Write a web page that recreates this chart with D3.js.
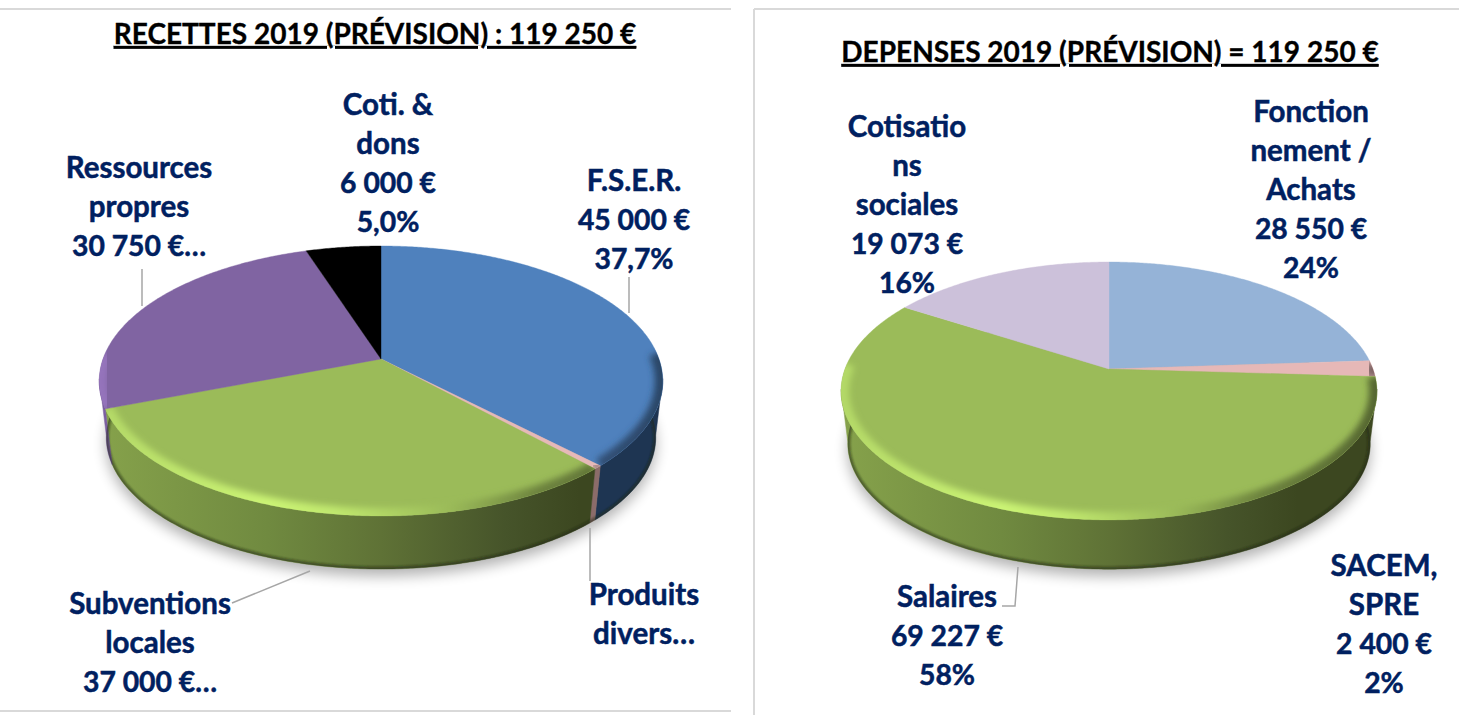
<!DOCTYPE html>
<html><head><meta charset="utf-8">
<script src="https://cdn.jsdelivr.net/npm/d3@7"></script>
<style>html,body{margin:0;padding:0;background:#fff}svg{display:block}text{font-family:Lato,"Open Sans",sans-serif;font-weight:700}</style>
</head><body><svg id="c" width="1459" height="715"></svg>
<script>
// ---- data ----
const recettesTitle = "RECETTES 2019 (PRÉVISION) : 119 250 €";
const recettesCategories = ["F.S.E.R.", "Produits divers", "Subventions locales", "Ressources propres", "Coti. & dons"];
const recettesValues = [45000, 500, 37000, 30750, 6000];
const recettesColors = ["#4f81bd", "#e6b9b8", "#9bbb59", "#8064a2", "#000000"];
const recettesLabels = [["F.S.E.R.","45 000 €","37,7%"],["Produits","divers…"],["Subventions","locales","37 000 €…"],["Ressources","propres","30 750 €…"],["Coti. &","dons","6 000 €","5,0%"]];

const depensesTitle = "DEPENSES 2019 (PRÉVISION) = 119 250 €";
const depensesCategories = ["Fonctionnement / Achats", "SACEM, SPRE", "Salaires", "Cotisations sociales"];
const depensesValues = [28550, 2400, 69227, 19073];
const depensesColors = ["#95b3d7", "#e6b8b7", "#9bbb59", "#ccc1da"];
const depensesLabels = [["Fonction","nement /","Achats","28 550 €","24%"],["SACEM,","SPRE","2 400 €","2%"],["Salaires","69 227 €","58%"],["Cotisatio","ns","sociales","19 073 €","16%"]];

// ---- layout ----
const FONT = 29.5, NUM_FONT = 28.3, TITLE_FONT = 28, NAVY = "#002060", LEAD = "#a6a6a6", LH = 39;
const charts = [
 {id:"r", title:recettesTitle, tx:375, ty:44, values:recettesValues, colors:recettesColors, labels:recettesLabels,
  cx:381, cy:359, R:278, S:131.4, k:0.163, depth:57, shrink:0.975,
  anchors:[[634,181],[644,595],[150,604],[139,168],[388,105]],
  sideColors:["#1e3552","#8b6c6a",null,"#7b5fa0","#000"],
  leaders:[[[629,277],[629,313]],[[590,528],[590,581]],[[310,571],[232,603]],[[142,269],[142,306]]]},
 {id:"d", title:depensesTitle, tx:1110, ty:62, values:depensesValues, colors:depensesColors, labels:depensesLabels,
  cx:1109, cy:369, R:264, S:125.2, k:0.1705, depth:53, shrink:0.975,
  anchors:[[1311,112],[1384,566],[947,597],[907,127]],
  sideColors:["#3d4720","#3d4720",null,"#6f8a40"],
  leaders:[[[1018,567],[1015,606],[1002,606]]]}
];

const svg = d3.select("#c");
const defs = svg.append("defs");
const blur = (id,s)=>defs.append("filter").attr("id",id).attr("x","-20%").attr("y","-20%").attr("width","140%").attr("height","140%")
   .append("feGaussianBlur").attr("stdDeviation",s);
blur("b7",7); blur("b3",3.2); blur("b1",1.2);

// panel borders
const borders=[[0,9,731,9],[0,711,731,711],[754,9,1459,9],[754,9,754,715]];
svg.selectAll("line.b").data(borders).join("line").attr("class","b")
  .attr("x1",d=>d[0]).attr("y1",d=>d[1]).attr("x2",d=>d[2]).attr("y2",d=>d[3])
  .attr("stroke","#d9d9d9").attr("stroke-width",2);

const lineGen = d3.line();
const deg = Math.PI/180;

charts.forEach(c=>{
  const g = svg.append("g");
  const x = d3.scaleLinear().domain([-1,1]).range([c.cx-c.R,c.cx+c.R]);
  const y = d3.scaleLinear().domain([-1,1]).range([c.cy-c.S,c.cy+c.S]);
  const top = a=>{const u=Math.sin(a),v=-Math.cos(a),w=1-c.k*v;return [x(u/w),y(v/w)];};
  const bot = a=>{const u=Math.sin(a),v=-Math.cos(a),w=1-c.k*v;
     return [c.cx+(x(u/w)-c.cx)*c.shrink, c.cy+c.depth+(y(v/w)-c.cy)*c.shrink];};
  const arcs = d3.pie().sort(null).value(d=>d)(c.values);
  const samples=(a0,a1,n)=>d3.range(n+1).map(i=>a0+(a1-a0)*i/n);
  const full = samples(0,2*Math.PI,360);
  const xmin=c.cx-c.R*1.02, xmax=c.cx+c.R*1.02;

  // drop shadow
  g.append("path").attr("d",lineGen(full.map(bot))+"Z").attr("transform","translate(0,7)")
    .attr("fill","#000").attr("opacity",.3).attr("filter","url(#b7)");

  // side wall gradient
  const greenSide=[[0,"#86a24b"],[.3,"#708a40"],[.5,"#5f7236"],[.72,"#46542a"],[.85,"#3c4720"],[1,"#3c4720"]];
  const gid=c.id+"side";
  defs.append("linearGradient").attr("id",gid).attr("gradientUnits","userSpaceOnUse")
    .attr("x1",xmin).attr("x2",xmax).attr("y1",0).attr("y2",0)
    .selectAll("stop").data(greenSide).join("stop").attr("offset",d=>d[0]).attr("stop-color",d=>d[1]);

  // side walls: only the part of each slice that faces the viewer
  arcs.forEach((s,i)=>{
    const n=Math.max(2,Math.ceil((s.endAngle-s.startAngle)/(deg/2)));
    const t=samples(s.startAngle,s.endAngle,n).filter(a=>top(a+0.002)[0]<top(a)[0]+0.01);
    if(t.length<2) return;
    const paint=c.sideColors[i]||`url(#${gid})`;
    g.append("path").attr("d",lineGen([...t.map(top),...t.slice().reverse().map(bot)])+"Z")
      .attr("fill",paint).attr("stroke",paint).attr("stroke-width",.5);
  });
  // dark lower edge of the wall
  const clipB=c.id+"clipB";
  defs.append("clipPath").attr("id",clipB).append("path").attr("d",lineGen(full.map(bot))+"Z");
  g.append("g").attr("clip-path",`url(#${clipB})`).append("path").attr("d",lineGen(full.map(bot))+"Z")
    .attr("fill","none").attr("stroke","#1c2410").attr("stroke-opacity",.55).attr("stroke-width",5).attr("filter","url(#b1)");

  // top faces
  arcs.forEach((s,i)=>{
    const n=Math.max(2,Math.ceil((s.endAngle-s.startAngle)/(deg/2)));
    const rim=samples(s.startAngle,s.endAngle,n);
    const d=lineGen([[c.cx,c.cy],...rim.map(top)])+"Z";
    g.append("path").attr("d",d).attr("fill",c.colors[i]).attr("stroke",c.colors[i]).attr("stroke-width",.4);
    // bevel on the rim
    if(c.colors[i]==="#000000") return;
    const vis=rim.filter(a=>-Math.cos(a)>-0.05);
    if(vis.length<2) return;
    const col=d3.color(c.colors[i]);
    const id=c.id+"rim"+i, cid=c.id+"cl"+i;
    const st=[[0,col.brighter(.4)],[.3,col.brighter(.75)],[.42,col.brighter(.6)],[.62,col],[.78,col.darker(1)],[1,col.darker(1.7)]];
    defs.append("linearGradient").attr("id",id).attr("gradientUnits","userSpaceOnUse")
      .attr("x1",xmin).attr("x2",xmax).attr("y1",0).attr("y2",0)
      .selectAll("stop").data(st).join("stop").attr("offset",e=>e[0]).attr("stop-color",e=>e[1].formatHex());
    defs.append("clipPath").attr("id",cid).append("path").attr("d",d);
    g.append("g").attr("clip-path",`url(#${cid})`).append("path")
      .attr("d",lineGen(vis.map(top))).attr("fill","none").attr("stroke",`url(#${id})`)
      .attr("stroke-width",16).attr("filter","url(#b3)");
  });

  // leader lines
  g.selectAll("path.lead").data(c.leaders).join("path").attr("class","lead")
    .attr("d",d=>lineGen(d)).attr("fill","none").attr("stroke",LEAD).attr("stroke-width",1.5);

  // labels
  c.labels.forEach((lines,i)=>{
    const [ax,ay]=c.anchors[i];
    g.append("g").attr("transform",`translate(${ax},${ay})`)
     .selectAll("text").data(lines).join("text")
      .attr("y",(d,j)=>j*LH).attr("dy","0.35em").attr("text-anchor","middle")
      .attr("font-size",d=>/\d/.test(d)?NUM_FONT:FONT).attr("fill",NAVY).attr("stroke",NAVY).attr("stroke-width",.5).text(d=>d);
  });
  // title
  g.append("text").attr("transform",`translate(${c.tx},${c.ty})`).attr("text-anchor","middle")
    .attr("font-size",TITLE_FONT).attr("fill","#000").attr("stroke","#000").attr("stroke-width",.35)
    .attr("text-decoration","underline").text(c.title);
});
</script></body></html>
